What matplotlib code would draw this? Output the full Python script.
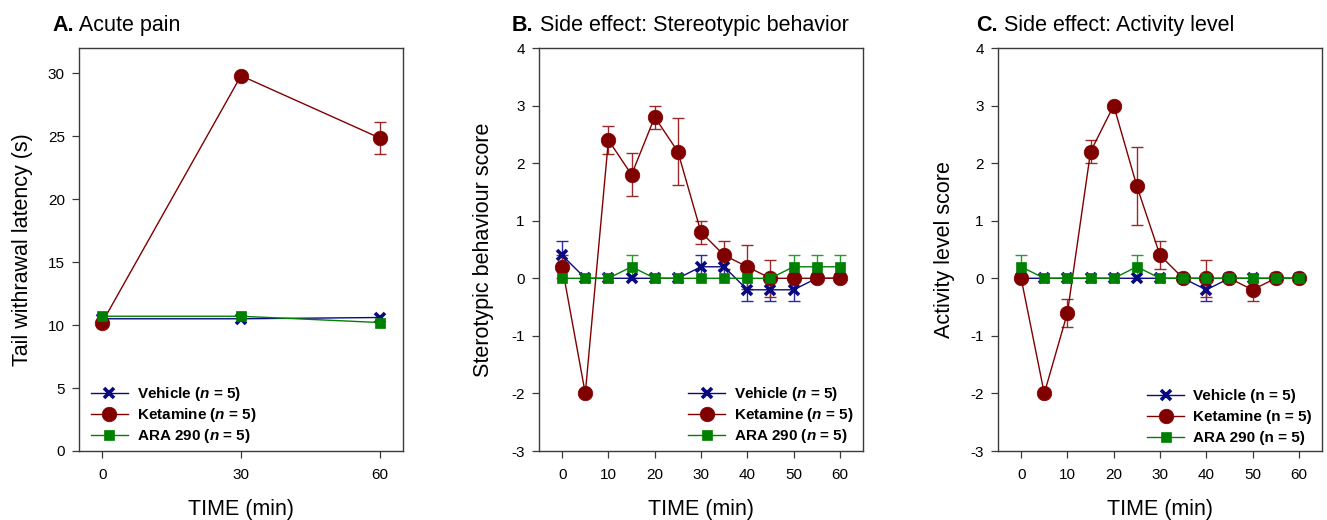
import matplotlib
matplotlib.use('Agg')
import matplotlib.pyplot as plt
import numpy as np

plt.rcParams['font.family'] = ['Liberation Sans', 'DejaVu Sans']
plt.rcParams['axes.unicode_minus'] = False
plt.rcParams['mathtext.fontset'] = 'custom'
plt.rcParams['mathtext.rm'] = 'Liberation Sans'
plt.rcParams['mathtext.it'] = 'Liberation Sans:italic'
plt.rcParams['mathtext.bf'] = 'Liberation Sans:bold'
plt.rcParams['mathtext.bfit'] = 'Liberation Sans:italic:bold'

# ---------------- data ----------------
time_a = [0, 30, 60]
veh_a = [10.5, 10.5, 10.6]
veh_a_err = [0, 0, 0]
ket_a = [10.2, 29.8, 24.85]
ket_a_err = [0, 0, 1.25]
ara_a = [10.7, 10.7, 10.2]
ara_a_err = [0, 0, 0]

time_bc = [0, 5, 10, 15, 20, 25, 30, 35, 40, 45, 50, 55, 60]
veh_b = [0.4, 0, 0, 0, 0, 0, 0.2, 0.2, -0.2, -0.2, -0.2, 0, 0]
veh_b_err = [0.24, 0, 0, 0, 0, 0, 0.2, 0.2, 0.2, 0.2, 0.2, 0, 0]
ket_b = [0.2, -2.0, 2.4, 1.8, 2.8, 2.2, 0.8, 0.4, 0.2, 0, 0, 0, 0]
ket_b_err = [0.2, 0, 0.24, 0.37, 0.2, 0.58, 0.2, 0.24, 0.38, 0.32, 0, 0, 0]
ara_b = [0, 0, 0, 0.2, 0, 0, 0, 0, 0, 0, 0.2, 0.2, 0.2]
ara_b_err = [0, 0, 0, 0.2, 0, 0, 0, 0, 0, 0, 0.2, 0.2, 0.2]

veh_c = [0, 0, 0, 0, 0, 0, 0, 0, -0.2, 0, 0, 0, 0]
veh_c_err = [0, 0, 0, 0, 0, 0, 0, 0, 0.2, 0, 0, 0, 0]
ket_c = [0, -2.0, -0.6, 2.2, 3.0, 1.6, 0.4, 0, 0, 0, -0.2, 0, 0]
ket_c_err = [0, 0, 0.24, 0.2, 0, 0.68, 0.24, 0, 0.32, 0, 0.2, 0, 0]
ara_c = [0.2, 0, 0, 0, 0, 0.2, 0, 0, 0, 0, 0, 0, 0]
ara_c_err = [0.2, 0, 0, 0, 0, 0.2, 0, 0, 0, 0, 0, 0, 0]

series_names = ['Vehicle', 'Ketamine', 'ARA 290']
titles = [('A.', ' Acute pain'), ('B.', ' Side effect: Stereotypic behavior'),
          ('C.', ' Side effect: Activity level')]
ylabels = ['Tail withrawal latency (s)', 'Sterotypic behaviour score', 'Activity level score']
xlabel = 'TIME (min)'
xticks_a = [0, 30, 60]
xticks_bc = [0, 10, 20, 30, 40, 50, 60]
yticks_a = [0, 5, 10, 15, 20, 25, 30]
yticks_bc = [-3, -2, -1, 0, 1, 2, 3, 4]

# ---------------- styles ----------------
colors = ['#0a0a80', '#800000', '#008000']
ecolors = ['#2b2b99', '#9a2a2a', '#2a9a2a']
markers = ['x', 'o', 's']
msizes = [7.5, 10.5, 7.8]
mews = [2.6, 0.5, 0.5]
spine_col = '#3a3a3a'

W, H = 1327, 520
fig = plt.figure(figsize=(W / 100, H / 100), dpi=100)

ax_w = 324 / W
ax_h = 403 / H
ax_b = 1 - 451 / H
lefts = [79, 539, 998]
axes = [fig.add_axes([l / W, ax_b, ax_w, ax_h]) for l in lefts]

panels = [
    (time_a, [(veh_a, veh_a_err), (ket_a, ket_a_err), (ara_a, ara_a_err)]),
    (time_bc, [(veh_b, veh_b_err), (ket_b, ket_b_err), (ara_b, ara_b_err)]),
    (time_bc, [(veh_c, veh_c_err), (ket_c, ket_c_err), (ara_c, ara_c_err)]),
]

title_x = [52, 512, 976]
ylabel_x = [-0.173, -0.170, -0.164]
legend_x = [0.037, 0.46, 0.46]
legend_sp = [0.2, 0.2, 0.46]

for i, ax in enumerate(axes):
    t, data = panels[i]
    t = np.array(t, dtype=float)
    for j, (vals, errs) in enumerate(data):
        vals = np.array(vals, dtype=float)
        errs = np.array(errs, dtype=float)
        m = errs > 0
        if m.any():
            ax.errorbar(t[m], vals[m], yerr=errs[m], fmt='none', ecolor=ecolors[j],
                        elinewidth=1.0, capsize=4.6, capthick=1.0, zorder=2 + j * 0.1)
        if i == 2:
            lab = f'{series_names[j]} (n = 5)'
        else:
            lab = f'{series_names[j]} ($\\mathbfit{{n}}$ = 5)'
        ax.plot(t, vals, color=colors[j], lw=1.0, marker=markers[j], ms=msizes[j],
                mew=mews[j], mec=colors[j], mfc=colors[j], label=lab, zorder=3 + j)

    ax.set_xlim(-5, 65)
    if i == 0:
        ax.set_ylim(0, 32)
        ax.set_xticks(xticks_a)
        ax.set_yticks(yticks_a)
    else:
        ax.set_ylim(-3, 4)
        ax.set_xticks(xticks_bc)
        ax.set_yticks(yticks_bc)

    for sp in ax.spines.values():
        sp.set_color(spine_col)
        sp.set_linewidth(1.0)
    ax.tick_params(axis='both', which='both', direction='out', length=4.7, width=0.9,
                   color=spine_col, labelsize=11, top=False, right=False)
    ax.tick_params(axis='y', pad=5.5)
    ax.tick_params(axis='x', pad=7.5)

    ax.set_ylabel(ylabels[i], fontsize=15.5, va='center')
    ax.yaxis.set_label_coords(ylabel_x[i], 0.5)
    ax.set_xlabel(xlabel, fontsize=15.5, va='center')
    ax.xaxis.set_label_coords(0.5, -0.145)

    leg = ax.legend(loc='lower left', bbox_to_anchor=(legend_x[i], 0.014), frameon=False,
                    borderpad=0, borderaxespad=0, handlelength=2.42, handletextpad=0.57,
                    labelspacing=legend_sp[i], prop={'weight': 'bold', 'size': 11})

    # panel title: bold letter + regular text
    t1 = fig.text(title_x[i] / W, 1 - 31 / H, titles[i][0], fontsize=15.5,
                  fontweight='bold', ha='left', va='baseline')
    ax.annotate(titles[i][1], xy=(1, 0), xycoords=t1, ha='left', va='bottom',
                fontsize=15.5, annotation_clip=False)

fig.savefig('out.png', dpi=100)
